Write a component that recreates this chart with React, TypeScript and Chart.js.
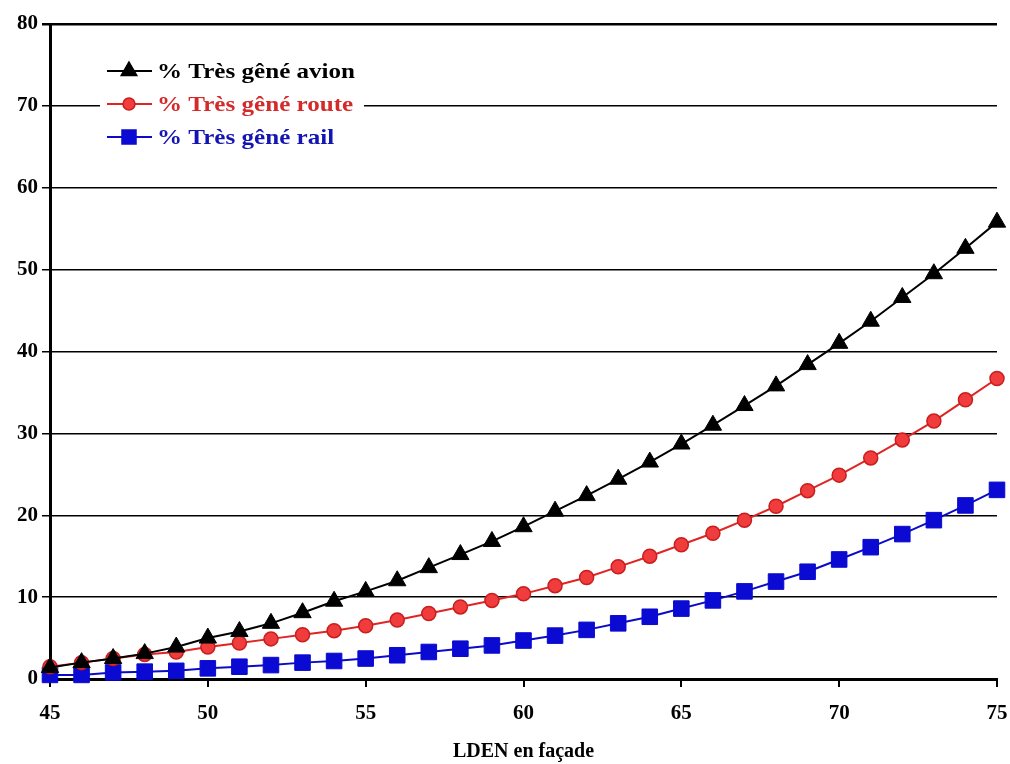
import React, { useEffect, useRef } from "react";
import { Chart, registerables } from "chart.js";

Chart.register(...registerables);

const lden = [45, 46, 47, 48, 49, 50, 51, 52, 53, 54, 55, 56, 57, 58, 59, 60, 61, 62, 63, 64, 65, 66, 67, 68, 69, 70, 71, 72, 73, 74, 75];
const avion = [1.4, 2.0, 2.5, 3.1, 3.9, 5.0, 5.8, 6.8, 8.1, 9.5, 10.7, 12.0, 13.6, 15.2, 16.8, 18.6, 20.5, 22.4, 24.4, 26.5, 28.7, 31.0, 33.4, 35.8, 38.4, 41.0, 43.7, 46.6, 49.5, 52.6, 55.8];
const route = [1.5, 2.0, 2.5, 3.0, 3.3, 3.9, 4.4, 4.9, 5.4, 5.9, 6.5, 7.2, 8.0, 8.8, 9.6, 10.4, 11.4, 12.4, 13.7, 15.0, 16.4, 17.8, 19.4, 21.1, 23.0, 24.9, 27.0, 29.2, 31.5, 34.1, 36.7];
const rail = [0.5, 0.5, 0.8, 0.9, 1.0, 1.3, 1.5, 1.7, 2.0, 2.2, 2.5, 2.9, 3.3, 3.7, 4.1, 4.7, 5.3, 6.0, 6.8, 7.6, 8.6, 9.6, 10.7, 11.9, 13.1, 14.6, 16.1, 17.7, 19.4, 21.2, 23.1];
const seriesLabels = ["% Très gêné avion", "% Très gêné route", "% Très gêné rail"];
const xTitle = "LDEN en façade";

const FONT = "'Liberation Serif', 'Times New Roman', serif";

function drawMarker(ctx: CanvasRenderingContext2D, style: string, x: number, y: number, fill: string, stroke: string) {
  ctx.fillStyle = fill;
  ctx.strokeStyle = stroke;
  ctx.lineWidth = 1.5;
  ctx.beginPath();
  if (style === "triangle") {
    const r = 9;
    ctx.moveTo(x, y - r);
    ctx.lineTo(x + r * 0.866, y + r * 0.5);
    ctx.lineTo(x - r * 0.866, y + r * 0.5);
    ctx.closePath();
  } else if (style === "circle") {
    ctx.arc(x, y, 6, 0, Math.PI * 2);
  } else {
    ctx.rect(x - 7, y - 7, 14, 14);
  }
  ctx.fill();
  ctx.stroke();
}

const legendPlugin = {
  id: "insideLegend",
  afterDraw(chart: any) {
    const ctx = chart.ctx;
    ctx.save();
    ctx.fillStyle = "#fff";
    ctx.fillRect(100, 54, 264, 100);
    const rows = [
      { y: 71, color: "#000", text: "#000", style: "triangle", fill: "#000", stroke: "#000" },
      { y: 104, color: "#e02424", text: "#d42a2a", style: "circle", fill: "#f03c3c", stroke: "#c81e1e" },
      { y: 137, color: "#0a0ac8", text: "#1414b4", style: "rect", fill: "#0a0ad2", stroke: "#0a0ad2" },
    ];
    rows.forEach((r, i) => {
      ctx.strokeStyle = r.color;
      ctx.lineWidth = 2;
      ctx.beginPath();
      ctx.moveTo(107, r.y);
      ctx.lineTo(152, r.y);
      ctx.stroke();
      drawMarker(ctx, r.style, 129, r.y, r.fill, r.stroke);
      ctx.save();
      ctx.translate(157, r.y + 1);
      ctx.scale(1.14, 1);
      ctx.fillStyle = r.text;
      ctx.font = `bold 22px ${FONT}`;
      ctx.textBaseline = "middle";
      ctx.textAlign = "left";
      ctx.fillText(seriesLabels[i], 0, 0);
      ctx.restore();
    });
    ctx.restore();
  },
};

export default function App() {
  const ref = useRef<HTMLCanvasElement>(null);
  useEffect(() => {
    const mk = (vals: number[]) => vals.map((v, i) => ({ x: lden[i], y: v }));
    const chart = new Chart(ref.current!, {
      type: "line",
      data: {
        datasets: [
          {
            label: seriesLabels[0],
            data: mk(avion),
            borderColor: "#000",
            borderWidth: 2,
            pointStyle: "triangle",
            pointRadius: 10,
            pointBackgroundColor: "#000",
            pointBorderColor: "#000",
            pointBorderWidth: 1,
            clip: false,
          },
          {
            label: seriesLabels[1],
            data: mk(route),
            borderColor: "#e02424",
            borderWidth: 2,
            pointStyle: "circle",
            pointRadius: 7,
            pointBackgroundColor: "#f03c3c",
            pointBorderColor: "#c81e1e",
            pointBorderWidth: 1.5,
            clip: false,
          },
          {
            label: seriesLabels[2],
            data: mk(rail),
            borderColor: "#0a0ac8",
            borderWidth: 2,
            pointStyle: "rect",
            pointRadius: 11,
            pointBackgroundColor: "#0a0ad2",
            pointBorderColor: "#0a0ad2",
            pointBorderWidth: 1,
            clip: false,
          },
        ],
      },
      options: {
        animation: false,
        responsive: false,
        maintainAspectRatio: false,
        layout: { padding: { top: 24, right: 13, left: 0, bottom: 0 } },
        plugins: { legend: { display: false }, tooltip: { enabled: false } },
        scales: {
          x: {
            type: "linear",
            min: 45,
            max: 75,
            ticks: { stepSize: 5, color: "#000", font: { family: FONT, size: 21, weight: "bold" }, padding: 14 },
            grid: { drawOnChartArea: false, drawTicks: true, tickLength: 8, color: "#000", lineWidth: 2 },
            border: { color: "#000", width: 3 },
            title: {
              display: true,
              text: xTitle,
              color: "#000",
              font: { family: FONT, size: 20, weight: "bold" },
              padding: { top: 10, bottom: 0 },
            },
            afterFit: (s: any) => { s.height = 85; s.paddingRight = 0; s.paddingLeft = 0; },
          },
          y: {
            min: 0,
            max: 80,
            ticks: { stepSize: 10, color: "#000", font: { family: FONT, size: 21, weight: "bold" }, padding: 4 },
            grid: { color: "#000", lineWidth: (c: any) => (c.tick && c.tick.value === 80 ? 2.5 : 1.5), tickLength: 8 },
            border: { color: "#000", width: 3 },
            afterFit: (s: any) => { s.width = 50; s.paddingTop = 0; s.paddingBottom = 0; },
          },
        },
      },
      plugins: [legendPlugin],
    });
    return () => chart.destroy();
  }, []);
  return (
    <div style={{ position: "fixed", left: 0, top: 0, width: 1010, height: 764, background: "#fff" }}>
      <canvas ref={ref} width={1010} height={764} style={{ width: 1010, height: 764 }} />
    </div>
  );
}
